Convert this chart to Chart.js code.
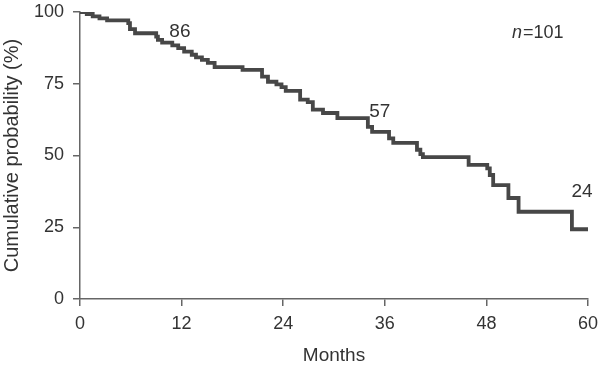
<!DOCTYPE html>
<html>
<head>
<meta charset="utf-8">
<script src="https://cdn.jsdelivr.net/npm/chart.js@4"></script>
<style>
  html, body { margin: 0; padding: 0; background: #fff; }
  #wrap { width: 600px; height: 367px; }
</style>
</head>
<body>
<div id="wrap"><canvas id="km"></canvas></div>
<script>
// Kaplan-Meier estimate (event time in months, survival %)
const months = [0, 0.8, 1.5, 2.3, 3.2, 5.7, 5.9, 6.5, 9.0, 9.2, 9.7, 10.9, 11.6, 12.3, 13.2, 13.7, 14.4, 15.1, 15.9,
  19.2, 21.5, 22.2, 23.2, 23.8, 24.3, 26.0, 26.9, 27.5, 28.7, 30.4, 34.0, 34.5, 36.5, 37.0, 39.8, 40.2, 40.5,
  45.9, 48.1, 48.4, 48.8, 50.6, 51.8, 58.1, 60];
const survival = [100, 99.3, 98.5, 97.8, 97.1, 96.1, 94.0, 92.6, 91.4, 90.3, 89.3, 88.4, 87.4, 86.2, 85.1, 84.2, 83.3, 82.3, 80.8,
  79.8, 77.5, 75.7, 74.8, 73.8, 72.5, 69.5, 68.6, 66.0, 64.8, 63.0, 60.0, 58.2, 56.0, 54.4, 52.0, 50.5, 49.4,
  46.7, 45.5, 43.2, 39.7, 35.2, 30.4, 24.3, 24.3];

const xTicks = [0, 12, 24, 36, 48, 60];
const yTicks = [0, 25, 50, 75, 100];

// numbers at risk written on the plot
const riskLabels = ['86', '57', '24'];
const riskAt = [[11.8, 93.2], [35.4, 65.2], [59.3, 37.4]];

const FONT = 'Liberation Sans, Arial, Helvetica, sans-serif';

const textPlugin = {
  id: 'kmText',
  afterDatasetsDraw(chart) {
    const ctx = chart.ctx;
    const xs = chart.scales.x, ys = chart.scales.y;
    ctx.save();
    ctx.fillStyle = '#333';
    ctx.textAlign = 'center';
    ctx.textBaseline = 'middle';
    ctx.font = '19px ' + FONT;
    riskLabels.forEach((t, i) => {
      ctx.fillText(t, xs.getPixelForValue(riskAt[i][0]), ys.getPixelForValue(riskAt[i][1]));
    });
    // n=101
    const cx = xs.getPixelForValue(54), cy = ys.getPixelForValue(92.8);
    ctx.font = 'italic 18px ' + FONT;
    const w1 = ctx.measureText('n').width;
    ctx.font = '18px ' + FONT;
    const w2 = ctx.measureText('=101').width;
    let left = cx - (w1 + w2) / 2;
    ctx.textAlign = 'left';
    ctx.font = 'italic 18px ' + FONT;
    ctx.fillText('n', left, cy);
    ctx.font = '18px ' + FONT;
    ctx.fillText('=101', left + w1 + 1, cy);
    ctx.restore();
  }
};

new Chart(document.getElementById('km'), {
  type: 'line',
  data: {
    datasets: [{
      data: months.map((m, i) => ({ x: m, y: survival[i] })),
      stepped: 'before',
      borderColor: '#474747',
      borderWidth: 3.8,
      pointRadius: 0,
      fill: false
    }]
  },
  options: {
    responsive: true,
    maintainAspectRatio: false,
    animation: false,
    layout: { padding: { top: 12, right: 12, left: 0, bottom: 0 } },
    plugins: { legend: { display: false }, tooltip: { enabled: false } },
    scales: {
      x: {
        type: 'linear',
        min: 0,
        max: 60,
        afterBuildTicks: s => { s.ticks = xTicks.map(v => ({ value: v })); },
        afterFit: s => { s.height = 68; s.paddingLeft = 0; s.paddingRight = 0; },
        grid: { drawOnChartArea: false, drawTicks: true, tickLength: 7, color: '#666', lineWidth: 1.5 },
        border: { display: true, color: '#666', width: 1.5 },
        ticks: { color: '#333', font: { family: FONT, size: 18 }, padding: 7, maxRotation: 0 },
        title: { display: true, text: 'Months', color: '#333', font: { family: FONT, size: 19 }, padding: { top: 6, bottom: 0 } }
      },
      y: {
        min: 0,
        max: 100,
        afterBuildTicks: s => { s.ticks = yTicks.map(v => ({ value: v })); },
        afterFit: s => { s.width = 80; s.paddingTop = 0; s.paddingBottom = 0; },
        grid: { drawOnChartArea: false, drawTicks: true, tickLength: 7, color: '#666', lineWidth: 1.5 },
        border: { display: true, color: '#666', width: 1.5 },
        ticks: { color: '#333', font: { family: FONT, size: 18 }, padding: 9 },
        title: { display: true, text: 'Cumulative probability (%)', color: '#333', font: { family: FONT, size: 20 }, padding: { top: 0, bottom: 2 } }
      }
    }
  },
  plugins: [textPlugin]
});
</script>
</body>
</html>
